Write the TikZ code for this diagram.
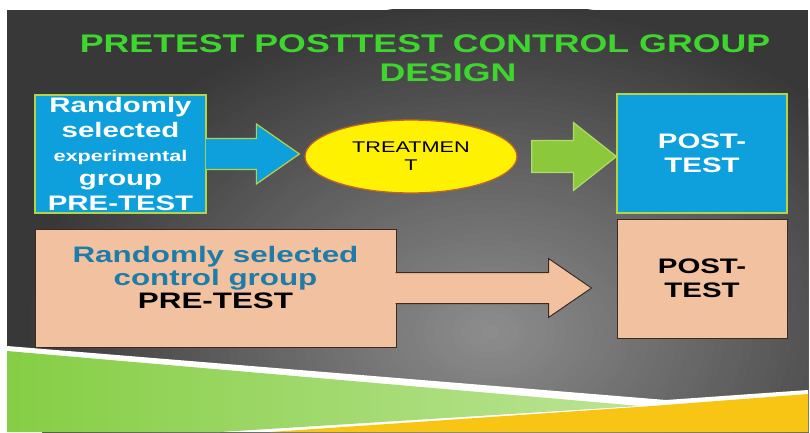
\documentclass[tikz,border=0pt]{standalone}
\usepackage{fontspec}
\setmainfont{Liberation Sans}[FakeStretch=1.4]
\usepackage{tikz}
\usetikzlibrary{positioning,calc,shapes.geometric}
\definecolor{titlegreen}{HTML}{3ED62E}
\definecolor{boxblue}{HTML}{0DA0DD}
\definecolor{boxblueline}{HTML}{B4D445}
\definecolor{peachfill}{HTML}{F2C2A0}
\definecolor{peachline}{HTML}{3C2A20}
\definecolor{ctrlblue}{HTML}{1F7BA8}
\definecolor{treatyellow}{HTML}{FFF200}
\definecolor{treatline}{HTML}{C0642A}
\definecolor{arrowgreen}{HTML}{8CC83C}
\definecolor{arrowgreenline}{HTML}{B0DA6A}
\definecolor{bgdark}{HTML}{383838}
\definecolor{bglight}{HTML}{8E8E8E}
\definecolor{bandgreen}{HTML}{86CE45}
\definecolor{bandpale}{HTML}{CDEBB0}
\definecolor{bandyellow}{HTML}{F8C515}
\tikzset{
  titletext/.style={text=titlegreen,font=\bfseries\fontsize{25.5}{28}\selectfont,inner sep=0pt},
  bluebox/.style={draw=boxblueline,line width=1.2pt,fill=boxblue,minimum width=171pt,minimum height=118pt,inner sep=0pt,align=center,text=white,font=\bfseries\fontsize{21}{24.3}\selectfont},
  peachbox/.style={draw=peachline,line width=1pt,fill=peachfill,minimum width=170pt,minimum height=119pt,inner sep=0pt,align=center,text=black,font=\bfseries\fontsize{21}{24.3}\selectfont},
  treatnode/.style={ellipse,draw=treatline,line width=1.3pt,fill=treatyellow,minimum width=212pt,minimum height=73pt,inner sep=0pt,align=center,font=\fontsize{15.5}{18}\selectfont},
  % fat arrow from start to target: #1 half body, #2 half head
  blockarrow/.style 2 args={to path={let \p1=(\tikztostart),\p2=(\tikztotarget) in
    (\x1,\y1-#1) -- (\x2-43pt,\y1-#1) -- (\x2-43pt,\y1-#2) -- (\x2,\y1)
    -- (\x2-43pt,\y1+#2) -- (\x2-43pt,\y1+#1) -- (\x1,\y1+#1)}},
  bluearrow/.style={blockarrow={15.5pt}{30pt},fill=boxblue,draw=boxblueline,line width=1.2pt},
  greenarrow/.style={blockarrow={16pt}{34pt},fill=arrowgreen,draw=arrowgreenline,line width=1.2pt},
  peacharrow/.style={blockarrow={15.5pt}{29.5pt},fill=peachfill,draw=peachline,line width=1pt},
}
\begin{document}
\begin{tikzpicture}[x=1pt,y=1pt]
  \useasboundingbox (0,0) rectangle (810,432);
  \fill[white] (0,0) rectangle (810,432);
  % slide background: soft glow, then the bottom bands
  \begin{scope}
    \clip (7,0) rectangle (808,422);
    \fill[bgdark] (7,0) rectangle (808,422);
    \foreach \i in {50,49,...,1} {
      \pgfmathtruncatemacro\pct{100-2*\i}
      \fill[bglight!\pct!bgdark] (490,100) ellipse ({\i*9.4pt} and {\i*6.6pt});
    }
    \fill[white] (7,86) -- (666,32) -- (808,42) -- (808,0) -- (7,0) -- cycle;
    \shade[left color=bandgreen,middle color=bandpale,right color=bandpale!75!bandgreen]
      (7,81) -- (640,26) -- (220,0) -- (7,0) -- cycle;
    \fill[bandyellow] (270,0) -- (652,26) -- (808,38) -- (808,0) -- cycle;
  \end{scope}

  \node[titletext,anchor=base] (title) at (425,379) {PRETEST POSTTEST CONTROL GROUP};
  \node[titletext,anchor=base] (titletwo) at (448,350) {DESIGN};

  % experimental group row
  \node[bluebox] (expbox) at (120.5,278) {Randomly\\selected\\{\fontsize{15.5}{24.3}\selectfont experimental}\\group\\PRE-TEST};
  \node[treatnode] (treat) at (411,275.5) {TREATMEN\\T};
  \node[bluebox,minimum width=170pt,minimum height=119pt] (postexp) at (702,278.5) {POST-\\TEST};
  \draw[bluearrow] ([xshift=-0.8pt]expbox.east) to ([xshift=-5pt]treat.west);
  \draw[greenarrow] ([xshift=14pt]treat.east) to (postexp.west) -- cycle;

  % control group row
  \node[peachbox,minimum width=361pt,minimum height=118pt] (ctrlbox) at (215.5,144) {};
  \node[peachbox,minimum width=170pt,minimum height=119pt] (postctrl) at (702,153.5) {POST-\\TEST};
  \draw[peacharrow] ([xshift=-0.8pt]ctrlbox.east) to ([xshift=-25pt]postctrl.west);
  \node[align=center,text=ctrlblue,font=\bfseries\fontsize{22.4}{22.6}\selectfont] (ctrltext)
    at ([yshift=10.5pt]ctrlbox.center) {Randomly selected\\control group\\\textcolor{black}{PRE-TEST}};
\end{tikzpicture}
\end{document}
